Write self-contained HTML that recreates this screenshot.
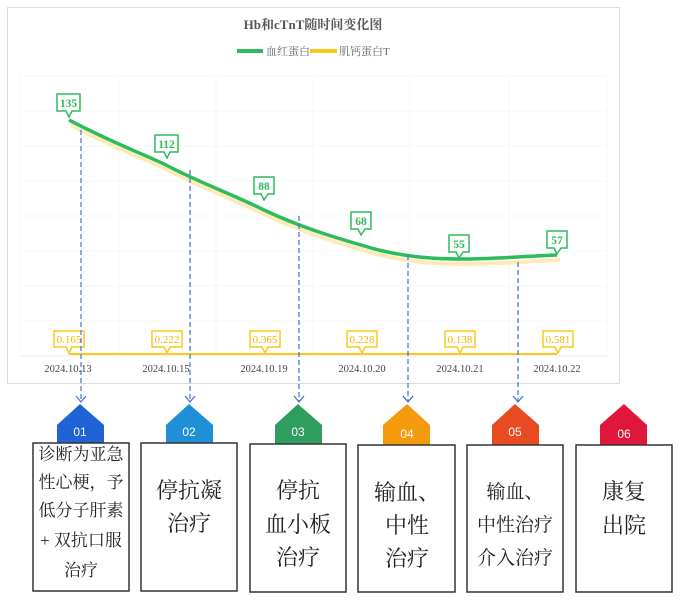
<!DOCTYPE html>
<html><head><meta charset="utf-8"><style>
html,body{margin:0;padding:0;background:#fff;}
svg{display:block;}
.s{font-family:"Liberation Serif","Noto Serif CJK SC",serif;}
</style></head><body>
<svg width="682" height="602" viewBox="0 0 682 602" xmlns="http://www.w3.org/2000/svg">
<rect x="7.5" y="7.5" width="612" height="376" fill="#fff" stroke="#ddd"/>
<text x="313" y="29" text-anchor="middle" class="s" font-size="13" font-weight="bold" fill="#555">Hb和cTnT随时间变化图</text>
<line x1="237" y1="51" x2="263" y2="51" stroke="#2dbb5c" stroke-width="4"/>
<text x="266" y="55" class="s" font-size="11" fill="#666">血红蛋白</text>
<line x1="310" y1="51" x2="337" y2="51" stroke="#fdc81a" stroke-width="4"/>
<text x="339" y="55" class="s" font-size="11" fill="#666">肌钙蛋白T</text>
<g stroke="#f2f8f5" stroke-width="1">
<line x1="20" y1="76" x2="607" y2="76"/><line x1="20" y1="111" x2="607" y2="111"/><line x1="20" y1="146" x2="607" y2="146"/><line x1="20" y1="181" x2="607" y2="181"/><line x1="20" y1="216" x2="607" y2="216"/><line x1="20" y1="251" x2="607" y2="251"/><line x1="20" y1="286" x2="607" y2="286"/><line x1="20" y1="321" x2="607" y2="321"/>
<line x1="20" y1="76" x2="20" y2="356"/><line x1="119" y1="76" x2="119" y2="356"/><line x1="216" y1="76" x2="216" y2="356"/><line x1="313" y1="76" x2="313" y2="356"/><line x1="410" y1="76" x2="410" y2="356"/><line x1="509" y1="76" x2="509" y2="356"/><line x1="607" y1="76" x2="607" y2="356"/>
</g>
<line x1="20" y1="356" x2="607" y2="356" stroke="#eaeaea"/>
<path d="M71 125 C119 150 148 160 168 170 C198 186 238 201 266 215 C298 230 328 240 363 250 C397 261 432 264 461 264 C499 264 529 261 560 260" fill="none" stroke="#fdebb8" stroke-width="4"/>
<path d="M69 120 C117 145 146 155 166 165 C196 181 236 196 264 210 C296 225 326 235 361 245 C395 256 430 259 459 259 C497 259 527 256 557 255" fill="none" stroke="#2dbb5c" stroke-width="3.5"/>
<line x1="69" y1="354" x2="557" y2="354" stroke="#fdc81a" stroke-width="2"/>
<g fill="#fff" stroke="#2dbb5c" stroke-width="1.5">
<path d="M57 94h23v17h-8l-3 6-3-6h-9z"/><path d="M155 135h23v17h-8l-3 6-3-6h-9z"/><path d="M254 177h20v17h-6l-4 6-3-6h-7z"/><path d="M351 212h20v17h-6l-4 6-3-6h-7z"/><path d="M449 235h20v17h-6l-4 6-3-6h-7z"/><path d="M547 231h20v17h-6l-4 6-3-6h-7z"/>
</g>
<g fill="#2dbb5c" class="s" font-size="11.5" font-weight="bold" text-anchor="middle">
<text x="68.5" y="107">135</text><text x="166.5" y="148">112</text><text x="264" y="190">88</text><text x="361" y="225">68</text><text x="459" y="248">55</text><text x="557" y="244">57</text>
</g>
<g fill="#fff" stroke="#fdc81a" stroke-width="1.5">
<path d="M54 331h30v16h-12l-3 6-3-6h-12z"/><path d="M152 331h30v16h-12l-3 6-3-6h-12z"/><path d="M250 331h30v16h-12l-3 6-3-6h-12z"/><path d="M347 331h30v16h-12l-3 6-3-6h-12z"/><path d="M445 331h30v16h-12l-3 6-3-6h-12z"/><path d="M543 331h30v16h-12l-3 6-3-6h-12z"/>
</g>
<g fill="#f2b600" class="s" font-size="11" text-anchor="middle">
<text x="69" y="343">0.165</text><text x="167" y="343">0.222</text><text x="265" y="343">0.365</text><text x="362" y="343">0.228</text><text x="460" y="343">0.138</text><text x="558" y="343">0.581</text>
</g>
<g fill="#444" class="s" font-size="10.5" text-anchor="middle">
<text x="68" y="372">2024.10.13</text><text x="166" y="372">2024.10.15</text><text x="264" y="372">2024.10.19</text><text x="362" y="372">2024.10.20</text><text x="460" y="372">2024.10.21</text><text x="557" y="372">2024.10.22</text>
</g>
<g stroke="#3f6fd8" stroke-width="1.2" stroke-dasharray="5,3" fill="none">
<line x1="81" y1="130" x2="81" y2="401"/><line x1="190" y1="170" x2="190" y2="401"/><line x1="299" y1="216" x2="299" y2="401"/><line x1="408" y1="255" x2="408" y2="401"/><line x1="518" y1="262" x2="518" y2="401"/>
</g>
<g stroke="#3f6fd8" stroke-width="1.2" fill="none">
<path d="M76 396 L81 402 L86 396"/><path d="M185 396 L190 402 L195 396"/><path d="M294 396 L299 402 L304 396"/><path d="M403 396 L408 402 L413 396"/><path d="M513 396 L518 402 L523 396"/>
</g>
<path d="M57 425 L80 404 L104 425 L104 444 L57 444Z" fill="#1f63d6"/>
<path d="M166 425 L189 404 L213 425 L213 444 L166 444Z" fill="#1f8fd6"/>
<path d="M275 425 L298 404 L322 425 L322 444 L275 444Z" fill="#2e9e5e"/>
<path d="M383 425 L407 404 L430 425 L430 445 L383 445Z" fill="#f59a0c"/>
<path d="M492 425 L515 404 L539 425 L539 445 L492 445Z" fill="#e84a22"/>
<path d="M600 425 L624 404 L647 425 L647 445 L600 445Z" fill="#e0173a"/>
<g fill="#fff" font-family="Liberation Sans,sans-serif" font-size="12" text-anchor="middle">
<text x="80" y="436">01</text><text x="189" y="436">02</text><text x="298" y="436">03</text><text x="407" y="438">04</text><text x="515" y="436">05</text><text x="624" y="438">06</text>
</g>
<g fill="#fff" stroke="#333" stroke-width="1.5">
<rect x="33" y="443" width="96" height="148"/><rect x="141" y="443" width="96" height="148"/><rect x="250" y="444" width="96" height="148"/><rect x="358" y="445" width="97" height="147"/><rect x="467" y="445" width="96" height="147"/><rect x="576" y="445" width="96" height="147"/>
</g>
<g fill="#222" class="s" text-anchor="middle">
<g font-size="17"><text x="81" y="460">诊断为亚急</text><text x="81" y="488">性心梗，予</text><text x="81" y="516">低分子肝素</text><text x="81" y="546">+ 双抗口服</text><text x="81" y="576">治疗</text></g>
<g font-size="22"><text x="189" y="498">停抗凝</text><text x="189" y="531">治疗</text>
<text x="298" y="498">停抗</text><text x="298" y="532">血小板</text><text x="298" y="565">治疗</text>
<text x="407" y="500">输血、</text><text x="407" y="533">中性</text><text x="407" y="566">治疗</text>
<text x="624" y="499">康复</text><text x="624" y="533">出院</text></g>
<g font-size="19"><text x="515" y="498">输血、</text><text x="515" y="531">中性治疗</text><text x="515" y="564">介入治疗</text></g>
</g>
</svg>
</body></html>
